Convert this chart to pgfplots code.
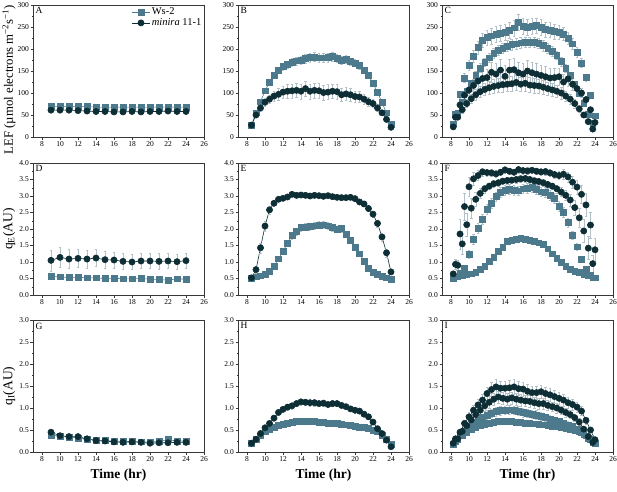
\documentclass[border=0pt]{standalone}
\usepackage{pgfplots}
\pgfplotsset{compat=1.18}
\usepackage{fontspec}
\setmainfont{Liberation Serif}
\definecolor{wscol}{RGB}{76,122,140}
\definecolor{micol}{RGB}{14,46,54}
\definecolor{errcol}{RGB}{178,192,200}
\definecolor{framecol}{RGB}{55,55,55}
\tikzset{lab/.style={font=\fontsize{9.5}{10}\selectfont, anchor=north west, inner sep=2.5pt}}
\pgfplotsset{
 base/.style={scale only axis, width=171pt, height=132pt, xmin=7, xmax=26,
   xtick={8,10,...,26}, minor x tick num=1, minor y tick num=1,
   tick align=outside, xtick pos=bottom, ytick pos=left,
   axis line style={framecol, line width=0.7pt},
   major tick length=2.5pt, minor tick length=1.4pt,
   every tick/.style={framecol, line width=0.5pt},
   ticklabel style={font=\fontsize{7.5}{8}\selectfont, inner sep=1.5pt},
   /pgf/number format/assume math mode=true},
 row1/.style={base, ymin=0, ymax=300, ytick={0,50,...,300}},
 row2/.style={base, ymin=0, ymax=4, ytick={0,0.5,1,1.5,2,2.5,3,3.5,4},
   yticklabel style={/pgf/number format/.cd, fixed, fixed zerofill, precision=1}},
 row3/.style={base, ymin=0, ymax=3, ytick={0,0.5,1,1.5,2,2.5,3},
   yticklabel style={/pgf/number format/.cd, fixed, fixed zerofill, precision=1}},
 ws/.style={wscol, line width=0.6pt, mark=square*, mark size=2.9pt, mark options={solid, fill=wscol, draw=wscol}},
 mi/.style={micol, line width=0.6pt, mark=*, mark size=3.1pt, mark options={solid, fill=micol, draw=micol}},
 eb/.style={error bars/y dir=both, error bars/y explicit,
   error bars/error bar style={errcol, line width=0.4pt},
   error bars/error mark options={errcol, mark size=1.4pt, line width=0.4pt, rotate=90}},
 ylab/.style={ylabel style={at={(axis description cs:-0.140,0.5)}, anchor=center, font=\fontsize{13.5}{15}\selectfont}},
 xlab/.style={xlabel style={at={(axis description cs:0.5,0)}, anchor=center, yshift=-23pt, font=\bfseries\fontsize{13.5}{15}\selectfont}},
}
\begin{document}
\begin{tikzpicture}
\useasboundingbox (0,0) rectangle (617pt,-491pt);
% ---------------- A
\begin{axis}[row1, at={(33pt,-5pt)}, anchor=north west, ylab,
  ylabel={LEF (µmol electrons m\textsuperscript{−2}s\textsuperscript{−1})},
  ylabel style={at={(axis description cs:-0.140,0.435)}, font=\fontsize{12.8}{14}\selectfont},
  legend style={draw=none, fill=none, at={(1,1)}, anchor=north east, font=\fontsize{10.5}{11}\selectfont, inner sep=0.5pt, row sep=-1.5pt},
  legend cell align=left]
\addplot[ws, eb] table[row sep=\\, x=x, y=y, y error=e] {x y e\\
9 69 2\\10 69 2\\11 69 2\\12 69 2\\13 69 2\\14 68 2\\15 68 2\\16 68 2\\17 68 2\\18 68 2\\19 68 2\\20 68 2\\21 68 2\\22 68 2\\23 68 2\\24 68 2\\};
\addlegendentry{Ws-2}
\addplot[mi, eb] table[row sep=\\, x=x, y=y, y error=e] {x y e\\
9 61 3\\10 61 3\\11 61 3\\12 60 3\\13 59 3\\14 58 3\\15 58 3\\16 57 3\\17 57 3\\18 58 3\\19 57 3\\20 58 3\\21 58 3\\22 59 3\\23 58 3\\24 58 3\\};
\addlegendentry{\textit{minira} 11-1}
\node[lab] at (rel axis cs:0,1) {A};
\end{axis}
% ---------------- B
\begin{axis}[row1, at={(238pt,-5pt)}, anchor=north west]
\addplot[ws, eb] table[row sep=\\, x=x, y=y, y error=e] {x y e\\
8.5 27 3\\9 55 4\\9.5 80 5\\10 105 6\\10.5 124 6\\11 140 7\\11.5 152 7\\12 160 8\\12.5 165 8\\13 170 9\\13.5 173 9\\14 175 9\\14.5 178 10\\15 181 10\\15.5 182 10\\16 180 10\\16.5 180 10\\17 181 10\\17.5 183 10\\18 179 9\\18.5 175 9\\19 176 9\\19.5 172 8\\20 168 8\\20.5 163 8\\21 152 7\\21.5 140 7\\22 122 6\\22.5 102 5\\23 78 5\\23.5 55 4\\24 28 3\\};
\addplot[mi, eb] table[row sep=\\, x=x, y=y, y error=e] {x y e\\
8.5 27 3\\9 50 5\\9.5 66 7\\10 79 9\\10.5 86 10\\11 93 12\\11.5 97 13\\12 102 14\\12.5 104 15\\13 105 16\\13.5 106 16\\14 104 17\\14.5 110 17\\15 104 17\\15.5 106 17\\16 105 17\\16.5 101 17\\17 102 17\\17.5 104 16\\18 103 16\\18.5 96 15\\19 98 15\\19.5 96 14\\20 92 13\\20.5 91 12\\21 86 11\\21.5 80 10\\22 76 9\\22.5 66 8\\23 55 6\\23.5 40 5\\24 22 3\\};
\node[lab] at (rel axis cs:0,1) {B};
\end{axis}
% ---------------- C
\begin{axis}[row1, at={(442pt,-5pt)}, anchor=north west]
\addplot[ws, eb, only marks] table[row sep=\\, x=x, y=y, y error=e] {x y e\\
8.5 52 5\\9 97 8\\9.5 134 10\\10 163 12\\10.5 184 14\\11 203 15\\11.5 220 16\\12 226 17\\12.5 230 18\\13 233 18\\13.5 236 18\\14 238 18\\14.5 243 18\\15 248 18\\15.5 260 18\\16 252 18\\16.5 250 18\\17 251 18\\17.5 253 18\\18 250 18\\18.5 244 18\\19 243 17\\19.5 240 17\\20 238 16\\20.5 234 15\\21 225 14\\21.5 212 13\\22 193 12\\22.5 168 10\\23 135 8\\23.5 95 6\\24 48 4\\};
\addplot[ws, eb, only marks] table[row sep=\\, x=x, y=y, y error=e] {x y e\\
8.25 30 4\\8.75 55 5\\9.25 80 6\\9.75 105 7\\10.25 122 8\\10.75 140 9\\11.25 157 10\\11.75 170 10\\12.25 180 11\\12.75 190 11\\13.25 197 12\\13.75 202 12\\14.25 207 12\\14.75 210 12\\15.25 212 12\\15.75 214 12\\16.25 215 12\\16.75 215 12\\17.25 215 12\\17.75 213 12\\18.25 208 12\\18.75 202 11\\19.25 195 11\\19.75 186 10\\20.25 172 10\\20.75 157 9\\21.25 140 8\\21.75 120 7\\22.25 100 6\\22.75 76 5\\23.25 52 4\\23.75 32 3\\};
\addplot[mi, eb, only marks] table[row sep=\\, x=x, y=y, y error=e] {x y e\\
8.5 45 5\\9 73 8\\9.5 95 10\\10 107 12\\10.5 117 14\\11 127 16\\11.5 133 18\\12 135 20\\12.5 147 22\\13 143 24\\13.5 152 25\\14 138 25\\14.5 152 25\\15 153 25\\15.5 146 25\\16 143 25\\16.5 150 25\\17 146 25\\17.5 143 25\\18 140 24\\18.5 137 23\\19 134 22\\19.5 135 21\\20 137 20\\20.5 125 18\\21 132 16\\21.5 120 14\\22 110 12\\22.5 100 10\\23 85 8\\23.5 62 6\\24 33 4\\};
\addplot[mi, eb, only marks] table[row sep=\\, x=x, y=y, y error=e] {x y e\\
8.25 23 3\\8.75 45 5\\9.25 62 7\\9.75 76 9\\10.25 87 10\\10.75 96 12\\11.25 103 13\\11.75 108 14\\12.25 112 15\\12.75 115 16\\13.25 117 16\\13.75 119 17\\14.25 120 17\\14.75 121 17\\15.25 124 17\\15.75 120 17\\16.25 122 17\\16.75 118 17\\17.25 117 17\\17.75 116 16\\18.25 113 16\\18.75 110 15\\19.25 107 15\\19.75 104 14\\20.25 100 13\\20.75 93 12\\21.25 86 11\\21.75 76 10\\22.25 64 8\\22.75 50 6\\23.25 35 5\\23.75 18 3\\};
\node[lab] at (rel axis cs:0,1) {C};
\end{axis}
% ---------------- D
\begin{axis}[row2, at={(33pt,-163pt)}, anchor=north west, ylab, ylabel={q\textsubscript{E}(AU)}]
\addplot[ws, eb] table[row sep=\\, x=x, y=y, y error=e] {x y e\\
9 0.56 0.05\\10 0.55 0.05\\11 0.53 0.05\\12 0.54 0.05\\13 0.52 0.05\\14 0.52 0.05\\15 0.50 0.05\\16 0.51 0.05\\17 0.49 0.05\\18 0.49 0.05\\19 0.50 0.05\\20 0.48 0.05\\21 0.47 0.05\\22 0.45 0.05\\23 0.49 0.05\\24 0.48 0.05\\};
\addplot[mi, eb] table[row sep=\\, x=x, y=y, y error=e] {x y e\\
9 1.05 0.32\\10 1.14 0.30\\11 1.09 0.29\\12 1.11 0.28\\13 1.09 0.27\\14 1.12 0.26\\15 1.07 0.26\\16 1.06 0.25\\17 1.02 0.24\\18 1.00 0.23\\19 1.03 0.23\\20 1.03 0.23\\21 1.02 0.24\\22 1.03 0.23\\23 1.01 0.23\\24 1.04 0.23\\};
\node[lab] at (rel axis cs:0,1) {D};
\end{axis}
% ---------------- E
\begin{axis}[row2, at={(238pt,-163pt)}, anchor=north west]
\addplot[ws, eb] table[row sep=\\, x=x, y=y, y error=e] {x y e\\
8.5 0.50 0.03\\9 0.55 0.03\\9.5 0.58 0.04\\10 0.63 0.05\\10.5 0.73 0.05\\11 0.87 0.06\\11.5 1.10 0.07\\12 1.32 0.08\\12.5 1.57 0.09\\13 1.80 0.10\\13.5 1.92 0.10\\14 2.04 0.11\\14.5 2.06 0.11\\15 2.07 0.11\\15.5 2.10 0.11\\16 2.12 0.11\\16.5 2.13 0.11\\17 2.10 0.11\\17.5 2.05 0.11\\18 2.00 0.10\\18.5 2.01 0.10\\19 1.83 0.09\\19.5 1.65 0.08\\20 1.45 0.08\\20.5 1.25 0.07\\21 1.03 0.06\\21.5 0.82 0.05\\22 0.70 0.04\\22.5 0.62 0.04\\23 0.57 0.03\\23.5 0.52 0.03\\24 0.48 0.03\\};
\addplot[mi, eb] table[row sep=\\, x=x, y=y, y error=e] {x y e\\
8.5 0.52 0.04\\9 0.77 0.10\\9.5 1.43 0.15\\10 2.09 0.15\\10.5 2.58 0.12\\11 2.78 0.08\\11.5 2.90 0.06\\12 2.93 0.05\\12.5 2.97 0.05\\13 3.05 0.05\\13.5 3.02 0.05\\14 3.03 0.05\\14.5 3.02 0.05\\15 3.00 0.05\\15.5 3.02 0.05\\16 3.01 0.05\\16.5 2.99 0.05\\17 3.01 0.05\\17.5 2.98 0.05\\18 2.96 0.05\\18.5 2.95 0.05\\19 2.95 0.05\\19.5 2.96 0.05\\20 2.92 0.06\\20.5 2.82 0.07\\21 2.76 0.08\\21.5 2.62 0.09\\22 2.45 0.10\\22.5 2.17 0.11\\23 1.76 0.12\\23.5 1.28 0.12\\24 0.70 0.08\\};
\node[lab] at (rel axis cs:0,1) {E};
\end{axis}
% ---------------- F
\begin{axis}[row2, at={(442pt,-163pt)}, anchor=north west]
\addplot[ws, eb, only marks] table[row sep=\\, x=x, y=y, y error=e] {x y e\\
8.5 0.55 0.04\\9 0.65 0.05\\9.5 0.82 0.08\\10 1.23 0.12\\10.5 1.68 0.15\\11 2.02 0.15\\11.5 2.30 0.15\\12 2.60 0.15\\12.5 2.78 0.15\\13 2.98 0.15\\13.5 3.12 0.15\\14 3.18 0.15\\14.5 3.20 0.15\\15 3.18 0.15\\15.5 3.16 0.15\\16 3.22 0.15\\16.5 3.24 0.15\\17 3.26 0.15\\17.5 3.20 0.15\\18 3.13 0.15\\18.5 3.12 0.15\\19 3.02 0.15\\19.5 2.92 0.15\\20 2.70 0.15\\20.5 2.50 0.15\\21 2.20 0.14\\21.5 1.82 0.12\\22 1.46 0.10\\22.5 1.09 0.08\\23 0.78 0.06\\23.5 0.60 0.05\\24 0.52 0.04\\};
\addplot[ws, eb, only marks] table[row sep=\\, x=x, y=y, y error=e] {x y e\\
8.25 0.50 0.03\\8.75 0.55 0.03\\9.25 0.58 0.03\\9.75 0.61 0.03\\10.25 0.64 0.03\\10.75 0.70 0.04\\11.25 0.78 0.04\\11.75 0.88 0.05\\12.25 1.02 0.05\\12.75 1.15 0.06\\13.25 1.33 0.06\\13.75 1.45 0.07\\14.25 1.63 0.07\\14.75 1.66 0.07\\15.25 1.69 0.07\\15.75 1.71 0.07\\16.25 1.70 0.07\\16.75 1.66 0.07\\17.25 1.62 0.07\\17.75 1.58 0.07\\18.25 1.53 0.06\\18.75 1.40 0.06\\19.25 1.25 0.06\\19.75 1.12 0.05\\20.25 1.00 0.05\\20.75 0.88 0.05\\21.25 0.77 0.04\\21.75 0.72 0.04\\22.25 0.68 0.04\\22.75 0.63 0.03\\23.25 0.58 0.03\\23.75 0.52 0.03\\};
\addplot[mi, eb, only marks] table[row sep=\\, x=x, y=y, y error=e] {x y e\\
8.5 0.93 0.15\\9 1.85 0.45\\9.5 2.68 0.40\\10 3.28 0.30\\10.5 3.52 0.20\\11 3.62 0.15\\11.5 3.73 0.12\\12 3.71 0.10\\12.5 3.70 0.10\\13 3.67 0.10\\13.5 3.72 0.10\\14 3.79 0.10\\14.5 3.75 0.10\\15 3.72 0.10\\15.5 3.80 0.10\\16 3.77 0.10\\16.5 3.76 0.10\\17 3.78 0.10\\17.5 3.75 0.10\\18 3.73 0.10\\18.5 3.74 0.10\\19 3.70 0.10\\19.5 3.65 0.10\\20 3.62 0.12\\20.5 3.66 0.14\\21 3.58 0.15\\21.5 3.42 0.18\\22 3.27 0.22\\22.5 3.05 0.28\\23 2.73 0.35\\23.5 2.12 0.40\\24 1.37 0.35\\};
\addplot[mi, eb, only marks] table[row sep=\\, x=x, y=y, y error=e] {x y e\\
8.25 0.64 0.08\\8.75 0.90 0.15\\9.25 1.55 0.30\\9.75 2.13 0.35\\10.25 2.63 0.30\\10.75 2.90 0.22\\11.25 3.08 0.15\\11.75 3.22 0.12\\12.25 3.30 0.10\\12.75 3.37 0.10\\13.25 3.40 0.10\\13.75 3.45 0.10\\14.25 3.47 0.10\\14.75 3.48 0.10\\15.25 3.50 0.10\\15.75 3.52 0.10\\16.25 3.53 0.10\\16.75 3.50 0.10\\17.25 3.46 0.10\\17.75 3.44 0.10\\18.25 3.40 0.10\\18.75 3.35 0.10\\19.25 3.30 0.10\\19.75 3.22 0.12\\20.25 3.12 0.14\\20.75 3.02 0.16\\21.25 2.88 0.18\\21.75 2.65 0.22\\22.25 2.34 0.28\\22.75 1.94 0.35\\23.25 1.42 0.35\\23.75 0.95 0.25\\};
\node[lab] at (rel axis cs:0,1) {F};
\end{axis}
% ---------------- G
\begin{axis}[row3, at={(33pt,-320pt)}, anchor=north west, ylab, xlab, ylabel={q\textsubscript{I}(AU)}, xlabel={Time (hr)}]
\addplot[ws, eb] table[row sep=\\, x=x, y=y, y error=e] {x y e\\
9 0.38 0.05\\10 0.36 0.04\\11 0.34 0.04\\12 0.32 0.04\\13 0.29 0.03\\14 0.27 0.03\\15 0.26 0.03\\16 0.25 0.03\\17 0.24 0.03\\18 0.24 0.03\\19 0.23 0.03\\20 0.23 0.04\\21 0.24 0.04\\22 0.28 0.05\\23 0.25 0.04\\24 0.25 0.04\\};
\addplot[mi, eb] table[row sep=\\, x=x, y=y, y error=e] {x y e\\
9 0.45 0.06\\10 0.37 0.04\\11 0.35 0.04\\12 0.35 0.04\\13 0.30 0.03\\14 0.26 0.03\\15 0.25 0.03\\16 0.23 0.03\\17 0.22 0.03\\18 0.23 0.03\\19 0.22 0.03\\20 0.20 0.03\\21 0.21 0.03\\22 0.21 0.03\\23 0.22 0.03\\24 0.22 0.03\\};
\node[lab] at (rel axis cs:0,1) {G};
\end{axis}
% ---------------- H
\begin{axis}[row3, at={(238pt,-320pt)}, anchor=north west, xlab, xlabel={Time (hr)}]
\addplot[ws, eb] table[row sep=\\, x=x, y=y, y error=e] {x y e\\
8.5 0.19 0.02\\9 0.28 0.02\\9.5 0.37 0.03\\10 0.46 0.03\\10.5 0.52 0.03\\11 0.56 0.03\\11.5 0.60 0.03\\12 0.63 0.03\\12.5 0.65 0.03\\13 0.67 0.03\\13.5 0.69 0.03\\14 0.70 0.03\\14.5 0.70 0.03\\15 0.69 0.03\\15.5 0.69 0.03\\16 0.68 0.03\\16.5 0.67 0.03\\17 0.66 0.03\\17.5 0.65 0.03\\18 0.65 0.03\\18.5 0.63 0.03\\19 0.62 0.03\\19.5 0.60 0.03\\20 0.59 0.03\\20.5 0.57 0.03\\21 0.56 0.03\\21.5 0.54 0.03\\22 0.50 0.03\\22.5 0.46 0.03\\23 0.38 0.02\\23.5 0.29 0.02\\24 0.18 0.02\\};
\addplot[mi, eb] table[row sep=\\, x=x, y=y, y error=e] {x y e\\
8.5 0.20 0.02\\9 0.29 0.03\\9.5 0.42 0.04\\10 0.55 0.05\\10.5 0.65 0.05\\11 0.77 0.06\\11.5 0.90 0.06\\12 0.97 0.07\\12.5 1.02 0.07\\13 1.05 0.07\\13.5 1.10 0.07\\14 1.14 0.07\\14.5 1.13 0.07\\15 1.12 0.07\\15.5 1.12 0.07\\16 1.10 0.07\\16.5 1.11 0.07\\17 1.08 0.07\\17.5 1.10 0.07\\18 1.10 0.07\\18.5 1.06 0.06\\19 1.03 0.06\\19.5 0.98 0.06\\20 0.95 0.06\\20.5 0.93 0.05\\21 0.86 0.05\\21.5 0.80 0.05\\22 0.68 0.04\\22.5 0.53 0.04\\23 0.42 0.03\\23.5 0.27 0.03\\24 0.12 0.02\\};
\node[lab] at (rel axis cs:0,1) {H};
\end{axis}
% ---------------- I
\begin{axis}[row3, at={(442pt,-320pt)}, anchor=north west, xlab, xlabel={Time (hr)}]
\addplot[ws, eb] table[row sep=\\, x=x, y=y, y error=e] {x y e\\
8.5 0.25 0.03\\9 0.38 0.04\\9.5 0.48 0.05\\10 0.58 0.06\\10.5 0.65 0.07\\11 0.72 0.08\\11.5 0.78 0.09\\12 0.84 0.10\\12.5 0.88 0.10\\13 0.92 0.10\\13.5 0.94 0.10\\14 0.95 0.10\\14.5 0.96 0.10\\15 0.95 0.10\\15.5 0.93 0.10\\16 0.90 0.10\\16.5 0.88 0.10\\17 0.86 0.10\\17.5 0.84 0.10\\18 0.81 0.09\\18.5 0.78 0.09\\19 0.75 0.09\\19.5 0.72 0.08\\20 0.69 0.08\\20.5 0.65 0.07\\21 0.62 0.07\\21.5 0.58 0.06\\22 0.52 0.06\\22.5 0.45 0.05\\23 0.37 0.04\\23.5 0.28 0.03\\24 0.20 0.03\\};
\addplot[ws, eb] table[row sep=\\, x=x, y=y, y error=e] {x y e\\
8.25 0.18 0.02\\8.75 0.28 0.03\\9.25 0.38 0.03\\9.75 0.45 0.03\\10.25 0.51 0.04\\10.75 0.56 0.04\\11.25 0.60 0.04\\11.75 0.63 0.04\\12.25 0.66 0.04\\12.75 0.68 0.04\\13.25 0.69 0.04\\13.75 0.70 0.04\\14.25 0.70 0.04\\14.75 0.69 0.04\\15.25 0.68 0.04\\15.75 0.67 0.04\\16.25 0.66 0.04\\16.75 0.65 0.04\\17.25 0.64 0.04\\17.75 0.63 0.04\\18.25 0.62 0.04\\18.75 0.61 0.04\\19.25 0.59 0.04\\19.75 0.58 0.04\\20.25 0.56 0.04\\20.75 0.54 0.04\\21.25 0.52 0.04\\21.75 0.50 0.03\\22.25 0.46 0.03\\22.75 0.40 0.03\\23.25 0.32 0.03\\23.75 0.22 0.02\\};
\addplot[mi, eb] table[row sep=\\, x=x, y=y, y error=e] {x y e\\
8.5 0.30 0.04\\9 0.45 0.06\\9.5 0.65 0.08\\10 0.80 0.10\\10.5 0.95 0.12\\11 1.07 0.13\\11.5 1.18 0.14\\12 1.33 0.15\\12.5 1.42 0.16\\13 1.48 0.17\\13.5 1.45 0.17\\14 1.45 0.17\\14.5 1.46 0.17\\15 1.48 0.17\\15.5 1.44 0.16\\16 1.43 0.16\\16.5 1.38 0.16\\17 1.35 0.15\\17.5 1.35 0.15\\18 1.37 0.15\\18.5 1.33 0.15\\19 1.30 0.14\\19.5 1.26 0.14\\20 1.22 0.13\\20.5 1.18 0.13\\21 1.12 0.12\\21.5 1.08 0.12\\22 1.02 0.11\\22.5 0.93 0.10\\23 0.72 0.08\\23.5 0.50 0.06\\24 0.28 0.04\\};
\addplot[mi, eb] table[row sep=\\, x=x, y=y, y error=e] {x y e\\
8.25 0.20 0.03\\8.75 0.30 0.04\\9.25 0.47 0.06\\9.75 0.60 0.07\\10.25 0.73 0.09\\10.75 0.85 0.10\\11.25 0.95 0.11\\11.75 1.05 0.12\\12.25 1.13 0.13\\12.75 1.20 0.14\\13.25 1.25 0.14\\13.75 1.22 0.14\\14.25 1.20 0.14\\14.75 1.23 0.14\\15.25 1.20 0.14\\15.75 1.18 0.13\\16.25 1.16 0.13\\16.75 1.15 0.13\\17.25 1.12 0.13\\17.75 1.10 0.12\\18.25 1.10 0.12\\18.75 1.06 0.12\\19.25 1.03 0.11\\19.75 1.00 0.11\\20.25 0.95 0.10\\20.75 0.90 0.10\\21.25 0.85 0.09\\21.75 0.78 0.09\\22.25 0.68 0.08\\22.75 0.52 0.06\\23.25 0.35 0.05\\23.75 0.22 0.03\\};
\node[lab] at (rel axis cs:0,1) {I};
\end{axis}
\end{tikzpicture}
\end{document}
